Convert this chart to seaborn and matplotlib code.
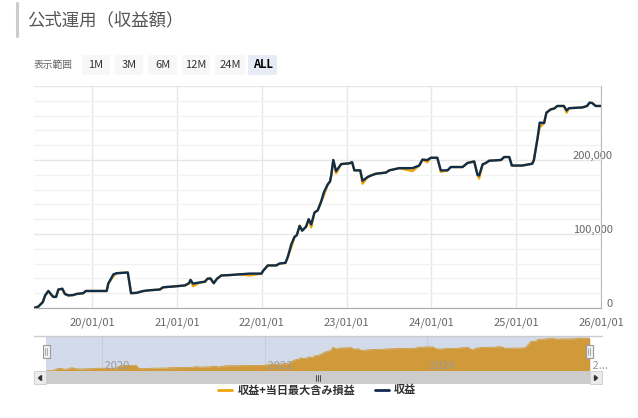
import matplotlib
matplotlib.use("Agg")
import matplotlib.pyplot as plt
import matplotlib.dates as mdates
from matplotlib.patches import Rectangle, FancyBboxPatch, Polygon
from matplotlib.lines import Line2D
from matplotlib.transforms import ScaledTranslation
from matplotlib.ticker import FixedLocator, MultipleLocator
import seaborn as sns
import pandas as pd

# --- data ---
dates = [
    "2019-04-26", "2019-05-15", "2019-06-03", "2019-06-13", "2019-06-27", "2019-07-07",
    "2019-07-18", "2019-07-30", "2019-08-09", "2019-08-26", "2019-09-06", "2019-09-21",
    "2019-10-12", "2019-10-27", "2019-11-24", "2019-12-05", "2020-03-04", "2020-03-11",
    "2020-04-02", "2020-04-16", "2020-06-03", "2020-06-17", "2020-07-11", "2020-08-09",
    "2020-09-06", "2020-10-19", "2020-11-02", "2020-12-15", "2021-02-04", "2021-02-22",
    "2021-02-28", "2021-03-11", "2021-04-09", "2021-05-01", "2021-05-12", "2021-05-25",
    "2021-06-08", "2021-06-22", "2021-07-11", "2021-08-16", "2021-09-28", "2021-11-10",
    "2021-12-31", "2022-01-06", "2022-01-27", "2022-03-04", "2022-03-18", "2022-04-13",
    "2022-04-23", "2022-05-08", "2022-05-22", "2022-06-01", "2022-06-13", "2022-06-24",
    "2022-07-11", "2022-07-22", "2022-08-02", "2022-08-16", "2022-08-30", "2022-09-14",
    "2022-09-25", "2022-10-12", "2022-10-22", "2022-10-27", "2022-11-05", "2022-11-17",
    "2022-12-09", "2023-01-13", "2023-01-25", "2023-02-04", "2023-03-01", "2023-03-11",
    "2023-04-02", "2023-04-16", "2023-05-08", "2023-06-20", "2023-07-04", "2023-08-16",
    "2023-10-12", "2023-11-10", "2023-11-24", "2023-12-15", "2023-12-30", "2024-01-27",
    "2024-02-11", "2024-03-11", "2024-03-25", "2024-05-15", "2024-06-05", "2024-07-04",
    "2024-07-18", "2024-07-25", "2024-08-09", "2024-08-23", "2024-09-06", "2024-10-27",
    "2024-11-10", "2024-12-02", "2024-12-13", "2025-01-27", "2025-03-11", "2025-03-18",
    "2025-04-02", "2025-04-12", "2025-05-01", "2025-05-11", "2025-05-30", "2025-06-13",
    "2025-06-27", "2025-07-25", "2025-08-06", "2025-08-16", "2025-10-12", "2025-11-02",
    "2025-11-13", "2025-11-24", "2025-12-09", "2025-12-31",
]

# 収益
profit = [
    0, 2000, 8000, 17000, 23000, 19000,
    15000, 15000, 25000, 26000, 19000, 17000,
    17500, 19000, 20000, 23000, 23000, 33000,
    45500, 47000, 48000, 20000, 20500, 23000,
    24000, 25000, 28000, 29000, 30500, 33500,
    38000, 33000, 34500, 35500, 39500, 40000,
    33500, 39500, 44000, 44500, 45500, 46500,
    46500, 50000, 57500, 57500, 60000, 61000,
    69000, 86000, 96000, 98500, 111000, 104500,
    110000, 120000, 113000, 129000, 132000, 144000,
    156000, 167000, 171000, 179000, 200000, 185000,
    194500, 195500, 197000, 186000, 186000, 172000,
    177000, 179000, 181500, 183000, 186000, 189000,
    189000, 192500, 200500, 200000, 203000, 203000,
    186000, 186000, 190500, 190500, 196000, 198000,
    180000, 179000, 194000, 196000, 199000, 200000,
    204000, 204000, 192500, 192500, 195000, 200000,
    228000, 250500, 250000, 264000, 268500, 269500,
    273000, 273000, 267000, 270000, 271000, 273000,
    277500, 277000, 273000, 273000,
]

# 収益+当日最大含み損益
profit_with_dd = [
    0, 2000, 8000, 17000, 23000, 19000,
    15000, 15000, 25000, 26000, 19000, 17000,
    17500, 19000, 20000, 23000, 23000, 33000,
    43000, 47000, 48000, 20000, 20500, 23000,
    24000, 25000, 28000, 29000, 30500, 33500,
    38000, 29500, 34500, 35500, 39500, 40000,
    33500, 39500, 44000, 44500, 45500, 44000,
    46500, 50000, 57500, 57500, 60000, 61000,
    69000, 82000, 96000, 98500, 111000, 104500,
    110000, 120000, 109000, 129000, 132000, 144000,
    152000, 167000, 171000, 179000, 200000, 182000,
    194500, 195500, 197000, 186000, 186000, 168000,
    177000, 179000, 181500, 183000, 186000, 189000,
    185000, 192500, 200500, 197000, 203000, 203000,
    184000, 186000, 190500, 190500, 196000, 198000,
    180000, 175000, 194000, 196000, 199000, 200000,
    204000, 204000, 192500, 192500, 195000, 200000,
    228000, 244000, 250000, 264000, 268500, 269500,
    273000, 273000, 264000, 270000, 271000, 273000,
    277500, 277000, 273000, 273000,
]

year_ticks = ["2020-01-01", "2021-01-01", "2022-01-01", "2023-01-01",
              "2024-01-01", "2025-01-01", "2026-01-01"]
y_ticks = [0, 100000, 200000, 300000]
y_labels = ["0", "100,000", "200,000", ""]
nav_years = ["2020-01-01", "2022-01-01", "2024-01-01", "2026-01-01"]
nav_labels = ["2020", "2022", "2024", "2..."]
range_buttons = ["1M", "3M", "6M", "12M", "24M", "ALL"]
series_names = ["収益+当日最大含み損益", "収益"]

ORANGE = "#f0a30a"
NAVY = "#0f2d4c"

df = pd.DataFrame({
    "date": pd.to_datetime(dates),
    "profit": profit,
    "profit_dd": profit_with_dd,
})

sns.set_style("white")
plt.rcParams["font.family"] = ["Noto Sans CJK JP", "DejaVu Sans"]

W, H = 638, 418
fig = plt.figure(figsize=(W / 100, H / 100), dpi=100)


def fx(x):
    return x / W


def fy(y):
    return 1 - y / H


# --- main chart ---
ax = fig.add_axes([fx(34), fy(308), (601 - 34) / W, (308 - 86) / H])
sns.lineplot(data=df, x="date", y="profit_dd", ax=ax, color=ORANGE, lw=1.7)
sns.lineplot(data=df, x="date", y="profit", ax=ax, color=NAVY, lw=1.7)
ax.set_xlim(pd.Timestamp("2019-04-26"), pd.Timestamp("2026-01-01"))
ax.set_ylim(0, 300000)
ax.set_xlabel("")
ax.set_ylabel("")

ax.xaxis.set_major_locator(FixedLocator(mdates.date2num(pd.to_datetime(year_ticks))))
ax.xaxis.set_major_formatter(mdates.DateFormatter("%y/%m/%d"))
ax.yaxis.tick_right()
ax.yaxis.set_major_locator(FixedLocator(y_ticks))
ax.set_yticklabels(y_labels)
ax.yaxis.set_minor_locator(MultipleLocator(20000))

ax.grid(which="major", axis="both", color="#e6e6e6", lw=1)
ax.grid(which="minor", axis="y", color="#f2f2f2", lw=1)
ax.set_axisbelow(True)
ax.tick_params(axis="x", length=5, color="#ccd6eb", labelsize=8, labelcolor="#666666", pad=2)
ax.tick_params(axis="y", which="both", length=0, labelsize=8, labelcolor="#666666", pad=8.5)
for lab in ax.get_yticklabels():
    lab.set_horizontalalignment("right")
    lab.set_transform(lab.get_transform() + ScaledTranslation(0, 0.05, fig.dpi_scale_trans))
for s in ["left", "top"]:
    ax.spines[s].set_visible(False)
ax.spines["bottom"].set_color("#aaaaaa")
ax.spines["right"].set_color("#bbbbbb")

# --- navigator ---
nav = fig.add_axes([fx(46), fy(371), (590 - 46) / W, (371 - 336) / H])
nav.set_facecolor("#d3dbea")
nav.fill_between(df["date"], df["profit"], color="#d09a3b", lw=0)
sns.lineplot(data=df, x="date", y="profit", ax=nav, color="#d09a3b", lw=0.6)
nav.set_xlim(pd.Timestamp("2019-04-26"), pd.Timestamp("2026-01-01"))
nav.set_ylim(0, 295000)
for d, t in zip(nav_years, nav_labels):
    nav.axvline(pd.Timestamp(d), color="#c5cddd", lw=0.8, zorder=0)
    nav.text(pd.Timestamp(d), 45000, " " + t, color="#999999", fontsize=8,
             ha="left", va="center", clip_on=False)
nav.set_xticks([])
nav.set_yticks([])
nav.set_xlabel("")
nav.set_ylabel("")
for s in nav.spines.values():
    s.set_visible(False)

fig.add_artist(Line2D([fx(34), fx(602)], [fy(336), fy(336)], color="#cccccc", lw=1))
for hx in (46, 589):
    fig.add_artist(Rectangle((fx(hx - 3.5), fy(358)), 7 / W, 13 / H,
                             facecolor="#f2f2f2", edgecolor="#999999", lw=0.8))
    for dx in (-1, 1):
        fig.add_artist(Line2D([fx(hx + dx), fx(hx + dx)], [fy(348), fy(355)],
                              color="#999999", lw=0.6))

# scrollbar
fig.add_artist(Rectangle((fx(34), fy(384)), (602 - 34) / W, 13 / H,
                         facecolor="#f2f2f2", edgecolor="none"))
fig.add_artist(Rectangle((fx(46), fy(384)), (590 - 46) / W, 13 / H,
                         facecolor="#cccccc", edgecolor="none"))
for bx in (34, 590):
    fig.add_artist(Rectangle((fx(bx), fy(384)), 12 / W, 13 / H,
                             facecolor="#ebebeb", edgecolor="#cccccc", lw=0.6))
fig.add_artist(Polygon([[fx(41.5), fy(375.5)], [fx(41.5), fy(380.5)], [fx(38.5), fy(378)]],
                       closed=True, color="#333333"))
fig.add_artist(Polygon([[fx(594.5), fy(375.5)], [fx(594.5), fy(380.5)], [fx(597.5), fy(378)]],
                       closed=True, color="#333333"))
for rx in (316, 318, 320):
    fig.add_artist(Line2D([fx(rx), fx(rx)], [fy(375), fy(381)], color="#333333", lw=0.6))

# legend
fig.add_artist(Line2D([fx(218), fx(232)], [fy(390), fy(390)], color=ORANGE, lw=2))
fig.text(fx(238), fy(390), series_names[0], fontsize=8, fontweight="bold",
         color="#333333", ha="left", va="center")
fig.add_artist(Line2D([fx(375), fx(389)], [fy(390), fy(390)], color=NAVY, lw=2))
fig.text(fx(394), fy(390), series_names[1], fontsize=8, fontweight="bold",
         color="#333333", ha="left", va="center")

# --- header ---
fig.add_artist(Line2D([fx(17), fx(17)], [fy(3), fy(36)], color="#cccccc", lw=2.2))
fig.text(fx(27), fy(20), "公式運用（収益額）", fontsize=12.5, color="#555555",
         ha="left", va="center")
fig.text(fx(34), fy(65), "表示範囲", fontsize=7, color="#666666", ha="left", va="center")
btn_x = [82, 115, 148, 182, 215, 248]
btn_w = [28, 28, 29, 28, 30, 29]
for label, bx, bw in zip(range_buttons, btn_x, btn_w):
    sel = label == "ALL"
    fig.add_artist(FancyBboxPatch((fx(bx), fy(75)), bw / W, 20 / H,
                                  boxstyle="round,pad=0,rounding_size=0.004",
                                  facecolor="#e6ebf5" if sel else "#f7f7f7",
                                  edgecolor="none"))
    fig.text(fx(bx + bw / 2), fy(65), label, fontsize=8,
             fontweight="bold" if sel else "normal",
             color="#000000" if sel else "#333333", ha="center", va="center")

fig.savefig("out.png", dpi=100)
